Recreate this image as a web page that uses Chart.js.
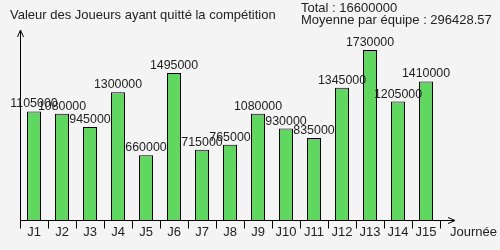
<!DOCTYPE html>
<html>
<head>
<meta charset="utf-8">
<script src="https://cdn.jsdelivr.net/npm/chart.js@4"></script>
<style>
  body { margin: 0; background: #f4f4f4; }
  #c { display: block; }
</style>
</head>
<body>
<canvas id="c" width="500" height="250"></canvas>
<script>
// donnees
const journees = ['J1','J2','J3','J4','J5','J6','J7','J8','J9','J10','J11','J12','J13','J14','J15'];
const valeurs = [1105000,1080000,945000,1300000,660000,1495000,715000,765000,1080000,930000,835000,1345000,1730000,1205000,1410000];
const titre = 'Valeur des Joueurs ayant quitté la compétition';
const total = 16600000;
const moyenne = 296428.57;

const FONT = '"Liberation Sans", Arial, sans-serif';

// axes, fleches, textes
const dessinPlugin = {
    id: 'dessin',
    beforeDraw(chart) {
        const ctx = chart.ctx;
        ctx.save();
        ctx.fillStyle = '#f4f4f4';
        ctx.fillRect(0, 0, chart.width, chart.height);
        ctx.restore();
    },
    afterDatasetsDraw(chart) {
        const ctx = chart.ctx;
        const x = chart.scales.x;
        const y = chart.scales.y;
        const a = chart.chartArea;
        const y0 = Math.round(y.getPixelForValue(0)) + 0.5;
        const x0 = Math.round(a.left) + 0.5;
        const xEnd = a.right + 15;
        const yTop = a.top;

        ctx.save();
        ctx.strokeStyle = '#000';
        ctx.lineWidth = 1;
        ctx.beginPath();
        // axe y + fleche
        ctx.moveTo(x0, y0);
        ctx.lineTo(x0, yTop);
        ctx.moveTo(x0 - 3, yTop + 7);
        ctx.lineTo(x0, yTop);
        ctx.lineTo(x0 + 3, yTop + 7);
        // axe x + fleche
        ctx.moveTo(x0, y0);
        ctx.lineTo(xEnd, y0);
        ctx.moveTo(xEnd - 7, y0 - 3);
        ctx.lineTo(xEnd, y0);
        ctx.lineTo(xEnd - 7, y0 + 3);
        // graduations
        for (let i = 0; i <= journees.length; i++) {
            const px = Math.round(a.left + (a.right - a.left) * i / journees.length) + 0.5;
            ctx.moveTo(px, y0);
            ctx.lineTo(px, y0 + 8);
        }
        ctx.stroke();

        ctx.fillStyle = '#222';
        ctx.font = '13px ' + FONT;
        ctx.textAlign = 'center';
        ctx.textBaseline = 'alphabetic';
        journees.forEach((j, i) => {
            ctx.fillText(j, x.getPixelForValue(i), y0 + 15);
        });
        ctx.textAlign = 'left';
        ctx.fillText('Journée', xEnd - 5, y0 + 15);

        // valeurs au-dessus des barres
        ctx.font = '12.4px ' + FONT;
        ctx.textAlign = 'center';
        const meta = chart.getDatasetMeta(0);
        meta.data.forEach((bar, i) => {
            ctx.fillText(String(valeurs[i]), bar.x, bar.y - 4);
        });

        // titre et resume
        ctx.font = '13px ' + FONT;
        ctx.textAlign = 'left';
        ctx.fillText(titre, 10, 19);
        ctx.fillText('Total : ' + total, 301, 12);
        ctx.fillText('Moyenne par équipe : ' + moyenne, 301, 23.5);
        ctx.restore();
    }
};

new Chart(document.getElementById('c'), {
    type: 'bar',
    data: {
        labels: journees,
        datasets: [{
            data: valeurs,
            backgroundColor: '#5fd85f',
            borderColor: '#000',
            borderWidth: 1,
            categoryPercentage: 1,
            barPercentage: 0.5
        }]
    },
    options: {
        responsive: false,
        animation: false,
        layout: { padding: { left: 20, right: 60, top: 30, bottom: 30 } },
        plugins: {
            legend: { display: false },
            tooltip: { enabled: false }
        },
        scales: {
            x: { display: false },
            y: { display: false, min: 0, max: 1933000 }
        }
    },
    plugins: [dessinPlugin]
});
</script>
</body>
</html>
